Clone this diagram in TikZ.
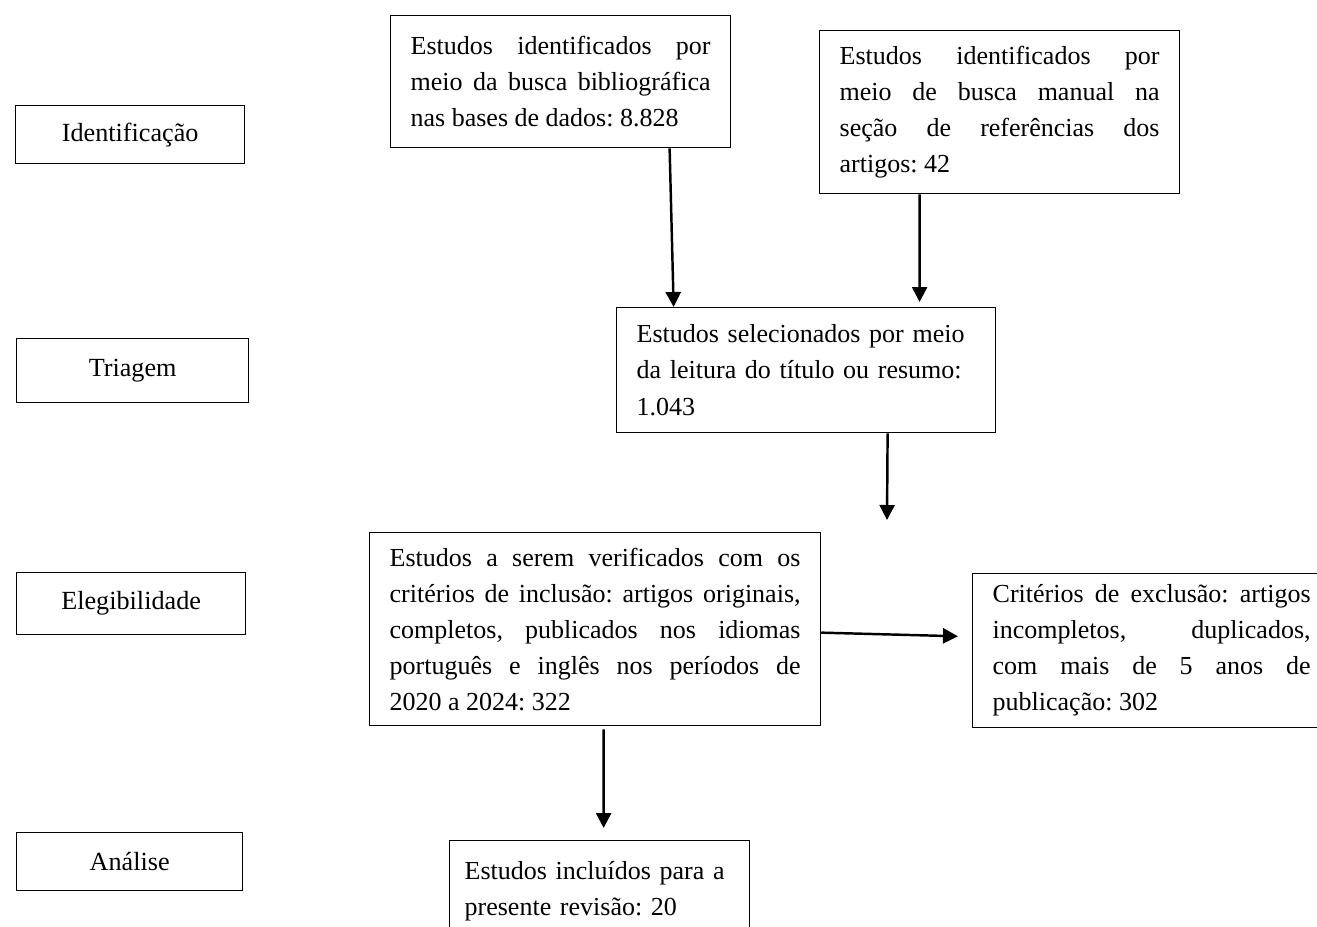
\documentclass[tikz,border=0pt]{standalone}
\usepackage{fontspec}
\setmainfont{Liberation Serif}
\usetikzlibrary{arrows.meta}
\hbadness=10000
\tolerance=10000
\frenchspacing

\begin{document}
\begin{tikzpicture}[
  x=0.02cm, y=-0.02cm,
  fase/.style={rectangle, draw, line width=0.75pt, anchor=north west, font=\fontsize{14.9}{20.5}\selectfont},
  caixa/.style={rectangle, draw, line width=0.75pt, inner xsep=0.4cm, inner ysep=0pt, anchor=north west, font=\fontsize{14.8}{20.5}\selectfont, align=justify},
  seta/.style={-{Triangle[width=0.3cm,length=0.3cm]}, line width=1.4pt}
]
\clip (0,0) rectangle (1317,926);

% fases da revisao
\node[fase, minimum width=4.58cm, minimum height=1.16cm] (ident) at (15,105) {Identificação};
\node[fase, minimum width=4.64cm, minimum height=1.28cm] (triagem) at (16,338) {Triagem};
\node[fase, minimum width=4.58cm, minimum height=1.24cm] (elegib) at (16,572) {Elegibilidade};
\node[fase, minimum width=4.52cm, minimum height=1.16cm] (analise) at (16,832) {Análise};

% caixas do fluxo
\node[caixa, text width=6.0cm, minimum height=2.64cm] (busca) at (390,15)
  {Estudos identificados por\linebreak meio da busca bibliográfica\linebreak nas bases de dados: 8.828};
\node[caixa, text width=6.4cm, minimum height=3.26cm] (manual) at (819,30)
  {Estudos identificados por\linebreak meio de busca manual na\linebreak seção de referências dos\linebreak artigos: 42};
\node[caixa, text width=6.78cm, minimum height=2.5cm, align=left] (selec) at (616,307)
  {Estudos selecionados por meio\\ da leitura do título ou resumo:\\ 1.043};
\node[caixa, text width=8.22cm, minimum height=3.86cm] (verif) at (369,532)
  {Estudos a serem verificados com os\linebreak critérios de inclusão: artigos originais,\linebreak completos, publicados nos idiomas\linebreak português e inglês nos períodos de\linebreak 2020 a 2024: 322};
\node[caixa, text width=6.36cm, minimum height=3.08cm] (exclu) at (972,573)
  {Critérios de exclusão: artigos\linebreak incompletos, duplicados,\linebreak com mais de 5 anos de\linebreak publicação: 302};
\node[caixa, text width=5.4cm, inner xsep=0.3cm, minimum height=2.04cm, align=left] (incl) at (449,840)
  {Estudos incluídos para a\\ presente revisão: 20};

\coordinate (fim) at (887,520);

% setas
\draw[seta] ([xshift=2.18cm]busca.south) -- ([xshift=-2.65cm]selec.north);
\draw[seta, shorten >=0.1cm] ([xshift=-1.6cm]manual.south) -- ([xshift=2.27cm]selec.north);
\draw[seta] ([xshift=1.63cm]selec.south) -- (fim);
\draw[seta, shorten >=0.28cm] ([yshift=-0.07cm]verif.east) -- ([yshift=0.28cm]exclu.west);
\draw[seta, shorten <=0.06cm, shorten >=0.24cm] ([xshift=0.17cm]verif.south) -- ([xshift=0.08cm]incl.north);
\end{tikzpicture}
\end{document}
